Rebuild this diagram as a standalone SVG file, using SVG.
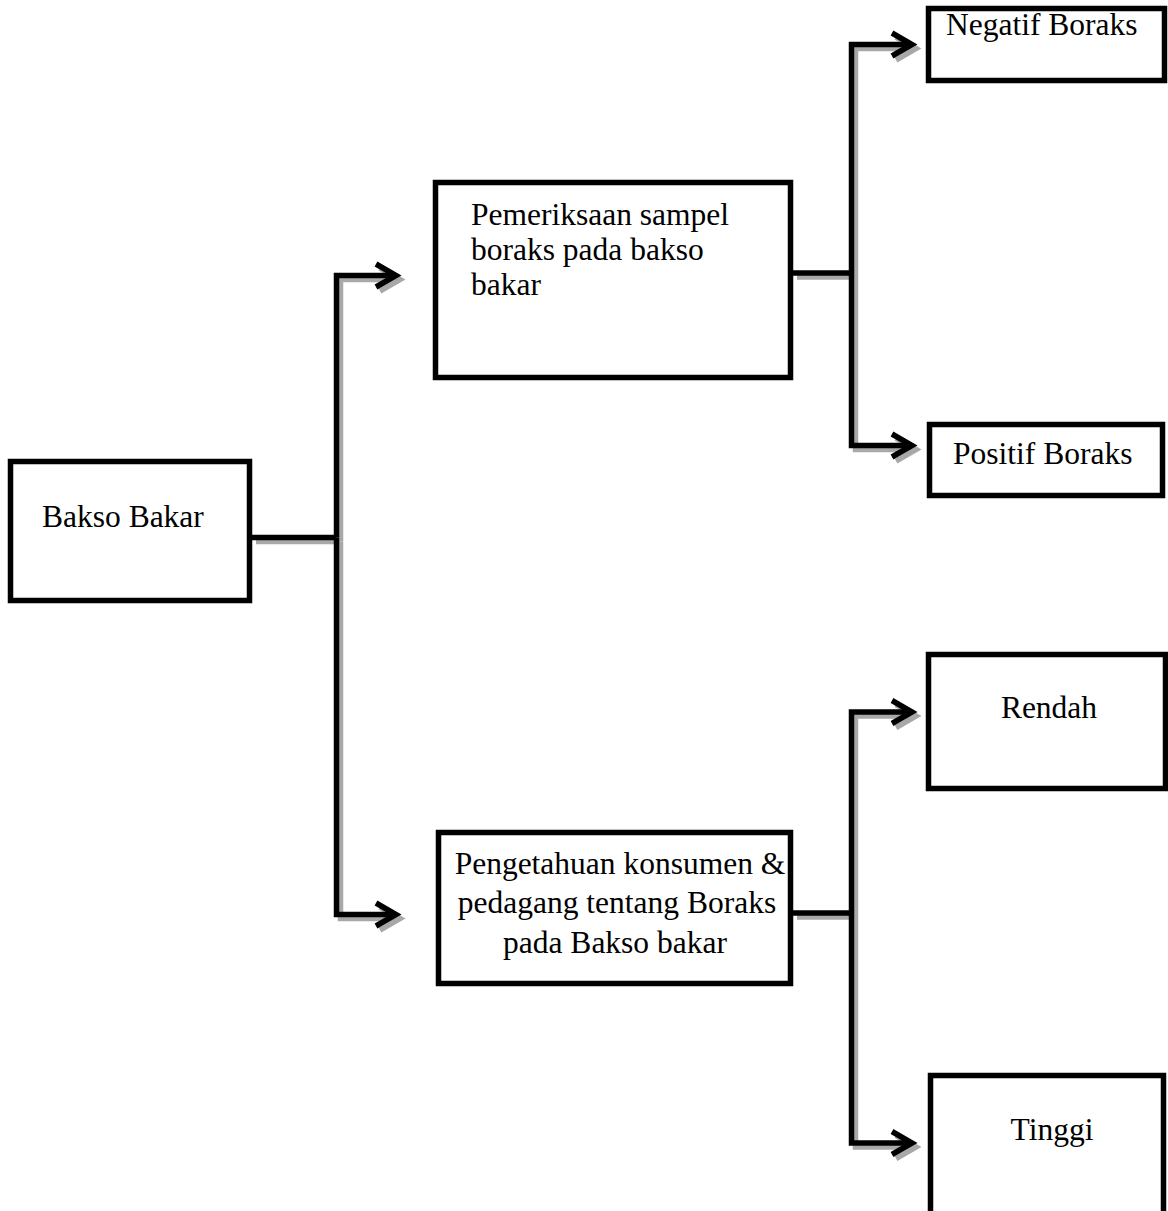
<svg xmlns="http://www.w3.org/2000/svg" width="1168" height="1211" viewBox="0 0 1168 1211">
<style>
  .box { fill: #ffffff; stroke: #000000; stroke-width: 5.5; }
  .lbl { font-family: "Liberation Serif", "Times New Roman", serif; font-size: 31.5px; fill: #000000; }
  .mid { text-anchor: middle; }
  .ln { fill: none; stroke: #000000; stroke-width: 5.5; stroke-linejoin: miter; stroke-linecap: butt; }
  .sh { fill: none; stroke: #a8a8a8; stroke-width: 5.5; stroke-linejoin: miter; stroke-linecap: butt; }
</style>
<defs>
  <marker id="arrow" markerUnits="userSpaceOnUse" orient="auto" refX="0" refY="0" markerWidth="40" markerHeight="40" overflow="visible">
    <path d="M -20 -11.5 L 0 0 L -20 11.5" fill="none" stroke="#000000" stroke-width="5.5" stroke-linejoin="miter"/>
  </marker>
  <marker id="arrowShadow" markerUnits="userSpaceOnUse" orient="auto" refX="0" refY="0" markerWidth="40" markerHeight="40" overflow="visible">
    <path d="M -20 -11.5 L 0 0 L -20 11.5" fill="none" stroke="#a8a8a8" stroke-width="5.5" stroke-linejoin="miter"/>
  </marker>
</defs>
<rect width="1168" height="1211" fill="#ffffff"/>

<g id="connectors">
  <g id="connector-shadows" transform="translate(4,4)">
    <path class="sh" d="M 252 537.5 H 336.5"/>
    <path class="sh" d="M 336.5 537.5 V 275.5 H 396" marker-end="url(#arrowShadow)"/>
    <path class="sh" d="M 336.5 537.5 V 914.5 H 396" marker-end="url(#arrowShadow)"/>
    <path class="sh" d="M 793 273 H 851.5"/>
    <path class="sh" d="M 851.5 273 V 44.5 H 912" marker-end="url(#arrowShadow)"/>
    <path class="sh" d="M 851.5 273 V 445.5 H 912" marker-end="url(#arrowShadow)"/>
    <path class="sh" d="M 793 913 H 851.5"/>
    <path class="sh" d="M 851.5 913 V 712 H 912" marker-end="url(#arrowShadow)"/>
    <path class="sh" d="M 851.5 913 V 1143 H 912" marker-end="url(#arrowShadow)"/>
  </g>
  <g id="connector-lines">
    <path class="ln" d="M 252 537.5 H 336.5"/>
    <path class="ln" d="M 336.5 537.5 V 275.5 H 396" marker-end="url(#arrow)"/>
    <path class="ln" d="M 336.5 537.5 V 914.5 H 396" marker-end="url(#arrow)"/>
    <path class="ln" d="M 793 273 H 851.5"/>
    <path class="ln" d="M 851.5 273 V 44.5 H 912" marker-end="url(#arrow)"/>
    <path class="ln" d="M 851.5 273 V 445.5 H 912" marker-end="url(#arrow)"/>
    <path class="ln" d="M 793 913 H 851.5"/>
    <path class="ln" d="M 851.5 913 V 712 H 912" marker-end="url(#arrow)"/>
    <path class="ln" d="M 851.5 913 V 1143 H 912" marker-end="url(#arrow)"/>
  </g>
</g>

<g id="node-bakso-bakar">
  <rect class="box" x="10.5" y="461.5" width="239" height="139"/>
  <text class="lbl" x="42" y="527">Bakso Bakar</text>
</g>

<g id="node-pemeriksaan">
  <rect class="box" x="435.5" y="182.5" width="355" height="195"/>
  <text class="lbl" x="471" y="225">Pemeriksaan sampel</text>
  <text class="lbl" x="471" y="260">boraks pada bakso</text>
  <text class="lbl" x="471" y="295">bakar</text>
</g>

<g id="node-pengetahuan">
  <rect class="box" x="438.5" y="832.5" width="352" height="151"/>
  <text class="lbl mid" x="620" y="874">Pengetahuan konsumen &amp;</text>
  <text class="lbl mid" x="617" y="913">pedagang tentang Boraks</text>
  <text class="lbl mid" x="615" y="953">pada Bakso bakar</text>
</g>

<g id="node-negatif">
  <rect class="box" x="928.5" y="8.5" width="236" height="72"/>
  <text class="lbl" x="946" y="35">Negatif Boraks</text>
</g>

<g id="node-positif">
  <rect class="box" x="929.5" y="424.5" width="233" height="71"/>
  <text class="lbl" x="953" y="464">Positif Boraks</text>
</g>

<g id="node-rendah">
  <rect class="box" x="928.5" y="654.5" width="237" height="134"/>
  <text class="lbl mid" x="1049" y="718">Rendah</text>
</g>

<g id="node-tinggi">
  <rect class="box" x="930.5" y="1075.5" width="233" height="160"/>
  <text class="lbl mid" x="1052" y="1140">Tinggi</text>
</g>
</svg>
